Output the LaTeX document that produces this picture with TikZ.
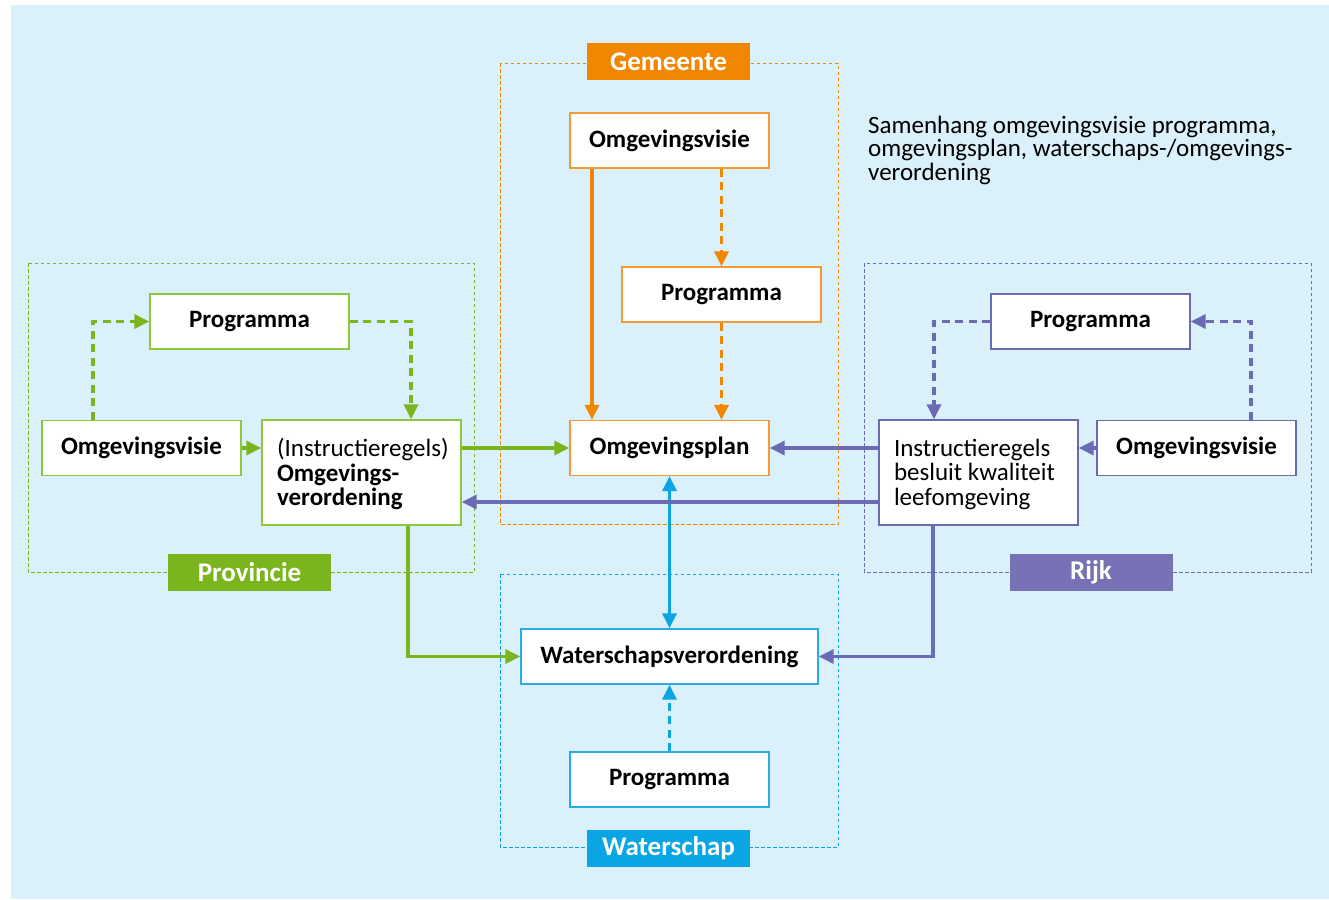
\documentclass[tikz,border=0pt]{standalone}
\usepackage{fontspec}
\setmainfont{Carlito}
\usetikzlibrary{arrows.meta,calc}
\definecolor{bgc}{HTML}{DAF0FB}
\definecolor{cg}{HTML}{7AB51D}
\definecolor{cgb}{HTML}{8DC63F}
\definecolor{co}{HTML}{F18700}
\definecolor{cob}{HTML}{F39A34}
\definecolor{cp}{HTML}{7771B5}
\definecolor{cpl}{HTML}{6A6BB4}
\definecolor{cc}{HTML}{0AA6E3}
\definecolor{ccb}{HTML}{2AACE2}
\newcommand{\boxlines}[1]{\makebox[199pt][l]{\hspace{15pt}\raisebox{-9.25pt}[0pt][0pt]{\begin{tabular}{@{}l@{}}#1\end{tabular}}}}
\tikzset{
  box/.style={draw, fill=white, line width=1.3pt, inner sep=0pt, minimum height=55pt, minimum width=199pt, font=\bfseries\fontsize{25}{24}\selectfont},
  tallbox/.style={draw, fill=white, line width=1.3pt, inner sep=0pt, minimum width=199pt, minimum height=105pt, font=\fontsize{25}{23.5}\selectfont},
  region/.style={draw, line width=1pt, dash pattern=on 3.5pt off 2.5pt},
  grouplabel/.style={fill, inner sep=0pt, minimum width=163pt, minimum height=37pt, font=\bfseries\fontsize{27}{28}\selectfont},
  arrtip/.style={-{Triangle[length=15pt,width=14pt]}},
  arr/.style={line width=3.2pt, arrtip},
  darr/.style={arr, dash pattern=on 8pt off 5.5pt},
}
\begin{document}
\begin{tikzpicture}[x=1pt,y=-1pt]
\useasboundingbox (0,0) rectangle (1329,899);
\fill[white] (0,0) rectangle (1329,899);
\fill[bgc] (11,5) rectangle (1329,899);

% regions
\draw[region, cg] (28,263) rectangle (474,572);
\draw[region, co] (500,63) rectangle (838,524);
\draw[region, cc] (500,574) rectangle (838,847);
\draw[region, cpl] (864,263) rectangle (1311,572);

% group labels
\node[grouplabel, fill=cg, text=white] (lprov) at (249.5,572.5) {Provincie};
\node[grouplabel, fill=co, text=white] (lgem) at (668.5,61.5) {Gemeente};
\node[grouplabel, fill=cc, text=white] (lwat) at (668.5,848.5) {Waterschap};
\node[grouplabel, fill=cp, text=white] (lrijk) at (1091,572.5) {Rijk};

% title
\node[anchor=north west, inner sep=0pt, align=left, font=\fontsize{25}{23.3}\selectfont] (title) at (868,116)
 {Samenhang omgevingsvisie programma,\\omgevingsplan, waterschaps-/omgevings-\\verordening};

% Provincie
\node[box, draw=cgb] (pprog) at (249.5,321.5) {Programma};
\node[box, draw=cgb] (povis) at (141.5,448) {Omgevingsvisie};
\node[tallbox, draw=cgb] (pverord) at (361.5,472.5) {\boxlines{(Instructieregels)\\\textbf{Omgevings-}\\\textbf{verordening}}};

% Gemeente
\node[box, draw=cob] (govis) at (669.5,140.5) {Omgevingsvisie};
\node[box, draw=cob] (gprog) at (721.5,294.5) {Programma};
\node[box, draw=cob] (gplan) at (669.5,448) {Omgevingsplan};

% Waterschap
\node[box, draw=ccb, minimum width=297pt] (wsv) at (669.5,656.5) {Waterschapsverordening};
\node[box, draw=ccb] (wprog) at (669.5,779.5) {Programma};

% Rijk
\node[box, draw=cpl] (rprog) at (1090.5,321.5) {Programma};
\node[tallbox, draw=cpl] (rinstr) at (978.5,472.5) {\boxlines{Instructieregels\\besluit kwaliteit\\leefomgeving}};
\node[box, draw=cpl] (rovis) at (1196.5,448) {Omgevingsvisie};

% Provincie connectors
\draw[darr, cg] ([xshift=-48.5pt]povis.north) |- (pprog.west);
\draw[darr, cg] (pprog.east) -| ([xshift=49.5pt]pverord.north);
\draw[arr, cg] (povis.east) -- (povis.east -| pverord.west);
\draw[arr, cg] (gplan.west -| pverord.east) -- (gplan.west);
\draw[arr, cg] ([xshift=46.5pt]pverord.south) |- (wsv.west);

% Gemeente connectors
\draw[arr, co] ([xshift=-77.5pt]govis.south) -- ([xshift=-77.5pt]gplan.north);
\draw[darr, co] (govis.south -| gprog.north) -- (gprog.north);
\draw[darr, co] (gprog.south) -- (gprog.south |- gplan.north);

% Waterschap connectors
\draw[line width=3.2pt, cc, {Triangle[length=15pt,width=14pt]}-{Triangle[length=15pt,width=14pt]}] (gplan.south) -- (wsv.north);
\draw[darr, cc] (wprog.north) -- (wsv.south);

% Rijk connectors
\draw[arr, cpl] (rovis.west) -- (rovis.west -| rinstr.east);
\draw[darr, cpl] ([xshift=54.5pt]rovis.north) |- (rprog.east);
\draw[darr, cpl] (rprog.west) -| ([xshift=-44.5pt]rinstr.north);
\draw[arr, cpl] (gplan.east -| rinstr.west) -- (gplan.east);
\draw[arr, cpl] ([yshift=-29.5pt]rinstr.west) -- ([yshift=-29.5pt]rinstr.west -| pverord.east);
\draw[arr, cpl] ([xshift=-45.5pt]rinstr.south) |- (wsv.east);
\end{tikzpicture}
\end{document}
